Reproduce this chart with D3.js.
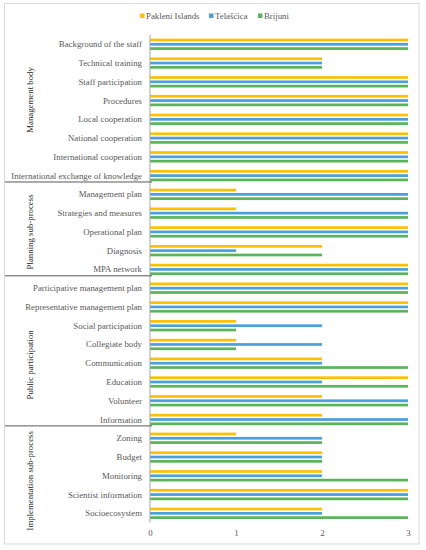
<!DOCTYPE html>
<html><head><meta charset="utf-8">
<script src="https://cdn.jsdelivr.net/npm/d3@7"></script>
<style>
html,body{margin:0;padding:0;background:#fff;}
svg text{font-family:'Liberation Serif','DejaVu Serif',serif !important;}
</style></head>
<body><svg id="chart" width="426" height="550"></svg>
<script>
const categories = [
  "Background of the staff","Technical training","Staff participation","Procedures",
  "Local cooperation","National cooperation","International cooperation","International exchange of knowledge",
  "Management plan","Strategies and measures","Operational plan","Diagnosis","MPA network",
  "Participative management plan","Representative management plan","Social participation","Collegiate body",
  "Communication","Education","Volunteer","Information",
  "Zoning","Budget","Monitoring","Scientist information","Socioecosystem"
];
const groups = ["Management body","Planning sub-process","Public participation","Implementation sub-process"];
const groupSizes = [8,5,8,5];
const seriesNames = ["Pakleni Islands","Telašćica","Brijuni"];
const pakleni  = [3,2,3,3,3,3,3,3, 1,1,3,2,3, 3,3,1,1,2,3,2,2, 1,2,2,3,2];
const telascica= [3,2,3,3,3,3,3,3, 3,3,3,1,3, 3,3,2,2,2,2,3,3, 2,2,2,3,2];
const brijuni  = [3,2,3,3,3,3,3,3, 3,3,3,2,3, 3,3,1,1,3,3,3,3, 2,2,3,3,3];
const xTicks = [0,1,2,3];

const FONT = "'Liberation Serif', serif";
const colors = ["#FFC000","#4A9FDD","#5AB55A"];
const seriesData = [pakleni, telascica, brijuni];
const svg = d3.select("#chart").attr("font-family", FONT);

// border
svg.append("rect").attr("x",4.5).attr("y",3.5).attr("width",414.5).attr("height",540.5)
  .attr("fill","none").attr("stroke","#D9D9D9").attr("stroke-width",1);

const x = d3.scaleLinear().domain([0,3]).range([150,408]);
const y0 = d3.scaleBand().domain(categories).range([34.9,522.7]).paddingInner(0.312).paddingOuter(0.156);
const y1 = d3.scaleBand().domain(seriesNames).range([0,y0.bandwidth()]).paddingInner(0.37).paddingOuter(0.185);

// bars
const g = svg.append("g");
categories.forEach((c,i)=>{
  seriesNames.forEach((s,j)=>{
    g.append("rect")
      .attr("x",x(0)).attr("y",y0(c)+y1(s))
      .attr("width",x(seriesData[j][i])-x(0)).attr("height",y1.bandwidth())
      .attr("fill",colors[j]);
  });
});

// y axis line
svg.append("line").attr("x1",150).attr("x2",150).attr("y1",34.9).attr("y2",522.7)
  .attr("stroke","#A6A6A6").attr("stroke-width",1);

// category labels
svg.append("g").selectAll("text").data(categories).join("text")
  .attr("x",142).attr("y",d=>y0(d)+y0.bandwidth()/2)
  .attr("text-anchor","end").attr("dominant-baseline","central")
  .attr("font-family",FONT)
  .attr("font-size","8.8px").attr("fill","#595959").text(d=>d);

// x axis ticks
const xa = svg.append("g").attr("transform","translate(0,533)")
  .call(d3.axisBottom(x).tickValues(xTicks).tickSize(0).tickFormat(d3.format("d")));
xa.attr("font-family",FONT);
xa.select(".domain").remove();
xa.selectAll("text").attr("font-size","8.8px").attr("fill","#595959")
  .attr("font-family",FONT).attr("dy","0.32em").attr("y",0);

// group separators and labels
const labelShift = [-10,0,11,5];
let start = 0;
groups.forEach((gname,k)=>{
  const first = categories[start];
  const last = categories[start+groupSizes[k]-1];
  const top = y0(first) - y0.step()*y0.paddingInner()/2;
  const bottom = y0(last) + y0.bandwidth() + y0.step()*y0.paddingInner()/2;
  if (k < groups.length-1) {
    svg.append("line").attr("x1",5).attr("x2",152)
      .attr("y1",bottom-3).attr("y2",bottom-3)
      .attr("stroke","#595959").attr("stroke-width",1);
  }
  const cy = (top+bottom)/2 + labelShift[k];
  svg.append("text").attr("transform",`translate(30,${cy}) rotate(-90)`)
    .attr("text-anchor","middle").attr("dominant-baseline","central")
    .attr("font-family",FONT)
    .attr("font-size","8.8px").attr("fill","#262626").text(gname);
  start += groupSizes[k];
});

// legend
const legendX = [140,209,258];
const legend = svg.append("g");
seriesNames.forEach((s,j)=>{
  legend.append("rect").attr("x",legendX[j]).attr("y",13.5).attr("width",4.5).attr("height",4.5).attr("fill",colors[j]);
  legend.append("text").attr("x",legendX[j]+6).attr("y",16).attr("dominant-baseline","central")
    .attr("font-family",FONT)
    .attr("font-size","8.8px").attr("fill","#595959").text(s);
});
</script></body></html>
